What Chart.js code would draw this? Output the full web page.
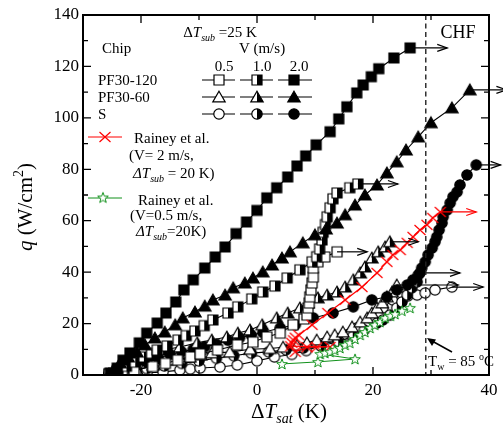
<!DOCTYPE html>
<html>
<head>
<meta charset="utf-8">
<script src="https://cdn.jsdelivr.net/npm/chart.js@4.4.1/dist/chart.umd.min.js"></script>
<style>
  html, body { margin: 0; padding: 0; background: #fff; }
  #wrap { width: 503px; height: 432px; }
</style>
</head>
<body>
<div id="wrap"><canvas id="chart" width="503" height="432"></canvas></div>
<script>
'use strict';

// ---- data ----
const pf120_20_x = [-25.3, -24.1, -23.1, -21.9, -20.3, -19.0, -17.2, -15.7, -14.0, -12.6, -11.0, -9.0, -7.2, -5.5, -3.6, -1.8, 0, 1.7, 3.4, 5.3, 6.9, 8.4, 10.2, 12.6, 14.1, 15.5, 17.2, 18.3, 19.7, 21.0, 23.6, 26.4];
const pf120_20_y = [0.8, 2.7, 5.8, 8.6, 12.5, 16.3, 20.2, 24.1, 28.4, 33.1, 37.0, 41.6, 45.9, 49.8, 55.0, 59.5, 64.0, 68.9, 72.8, 77.0, 81.3, 85.2, 89.5, 94.6, 99.6, 104.3, 109.7, 112.8, 116.0, 119.1, 123.3, 127.2];

const pf60_20_x = [-25.5, -24.8, -23.6, -22.2, -20.7, -19.3, -17.6, -15.9, -14.1, -12.8, -10.7, -9.0, -7.6, -5.5, -4.1, -2.1, -0.7, 1.0, 2.6, 4.3, 5.7, 7.9, 10.0, 11.9, 13.8, 15.2, 16.9, 18.6, 20.7, 22.4, 24.1, 25.7, 27.8, 30.0, 33.6, 36.7];
const pf60_20_y = [0.3, 1.9, 4.7, 7.0, 8.9, 11.7, 14.4, 16.7, 19.5, 22.2, 24.5, 26.8, 29.2, 31.1, 33.9, 35.8, 37.7, 40.1, 42.8, 45.5, 47.9, 51.4, 54.5, 56.8, 59.1, 62.3, 66.1, 70.0, 73.9, 78.6, 82.9, 87.5, 92.6, 98.1, 103.9, 110.9];

const pf120_10_x = [-25.5, -24.0, -22.5, -21.0, -19.5, -18.2, -17.2, -15.5, -13.6, -12.2, -10.7, -9.1, -7.6, -5.0, -3.3, -0.9, 1.0, 3.1, 5.2, 7.4, 9.5, 10.3, 10.8, 11.2, 11.4, 11.8, 12.1, 12.6, 13.1, 13.8, 16.0, 17.4];
const pf120_10_y = [0.3, 1.8, 3.4, 5.0, 7.0, 8.5, 9.7, 11.3, 13.6, 15.3, 17.1, 19.2, 21.4, 24.1, 26.5, 29.6, 32.3, 34.6, 37.7, 40.9, 44.0, 46.0, 49.0, 52.5, 55.5, 58.5, 61.5, 65.0, 68.5, 70.8, 72.8, 74.3];

const pf120_05_x = [-25.5, -23.2, -21.2, -18.0, -15.8, -13.7, -11.5, -9.8, -6.8, -3.4, -0.7, 1.7, 4.0, 6.2, 8.1, 8.6, 8.8, 9.0, 9.1, 9.3, 9.5, 9.7, 9.7, 10.5, 11.7, 13.8];
const pf120_05_y = [0.5, 1.2, 1.8, 3.3, 4.5, 5.8, 7.0, 8.2, 9.7, 11.7, 12.8, 14.8, 16.3, 19.5, 21.8, 23.3, 26.1, 28.0, 30.4, 33.1, 35.8, 38.1, 41.6, 44.0, 45.9, 47.9];

const pf60_10_x = [-25.5, -23.1, -20.7, -18.8, -16.2, -13.3, -10.3, -7.8, -5.2, -3.3, -1.2, 0.9, 3.4, 5.3, 7.4, 8.8, 10.5, 12.1, 13.8, 15.2, 16.6, 17.8, 18.6, 19.8, 20.9, 22.1, 22.9];
const pf60_10_y = [0.3, 3.1, 5.8, 7.8, 9.7, 10.9, 12.5, 13.6, 14.8, 16.3, 17.5, 19.5, 22.2, 24.1, 26.1, 28.0, 30.0, 31.1, 32.3, 34.2, 37.0, 39.7, 42.0, 45.5, 47.9, 49.8, 51.8];

const pf60_05_x = [-25.5, -23.0, -20.7, -17.9, -15.0, -13.3, -11.6, -9.7, -7.8, -4.7, -1.2, 2.2, 4.5, 6.9, 8.6, 10.3, 12.1, 13.4, 14.8, 16.4, 17.8, 19.0, 19.8, 20.7, 21.6, 22.4, 23.3, 24.1];
const pf60_05_y = [0.3, 1.0, 1.9, 3.9, 5.8, 6.4, 7.0, 7.8, 8.6, 8.9, 10.0, 10.3, 10.8, 11.5, 12.5, 13.6, 14.8, 15.6, 16.7, 18.7, 20.6, 22.2, 24.1, 26.1, 28.0, 30.4, 32.3, 35.0];

const s_20_x = [-25.5, -23, -21, -19, -17, -15, -13, -11, -9, -7, -5, -3, -1, 1, 4.0, 6.6, 9.7, 13.1, 16.6, 19.8, 22.4, 24.1, 25.9, 26.9, 27.8, 28.4, 29.0, 29.5, 30.2, 30.7, 31.0, 31.4, 31.9, 32.1, 32.8, 33.3, 33.8, 34.5, 35.0, 36.2, 37.8];
const s_20_y = [0.3, 2.0, 3.5, 5.0, 6.5, 8.0, 9.0, 10.0, 11.0, 12.0, 13.5, 14.5, 15.5, 16.5, 18.3, 19.5, 22.2, 24.1, 26.5, 29.2, 30.4, 33.1, 35.0, 37.0, 38.9, 41.6, 44.0, 46.7, 49.4, 51.8, 53.7, 56.4, 59.1, 61.5, 64.2, 66.9, 69.3, 71.2, 73.9, 77.8, 81.7];

const s_10_x = [-25.5, -22, -19, -16, -13, -10, -7, -4, -1, 2, 5, 8, 11, 14, 16.5, 18.5, 20.7, 21.7, 22.9, 24.1, 25.0, 25.9, 26.7, 27.6, 28.1];
const s_10_y = [0.3, 1.5, 2.5, 3.5, 4.5, 5.5, 6.5, 7.5, 8.5, 9.0, 9.8, 10.5, 11.3, 13.0, 15.0, 17.5, 20.2, 21.4, 23.3, 26.1, 28.4, 31.1, 33.9, 36.2, 39.7];

const s_05_x = [-25.5, -23.5, -21.9, -19.0, -16.2, -13.3, -11.5, -9.8, -6.4, -3.4, 0, 3.0, 6.0, 8.5, 11.0, 13.5, 15.5, 17.2, 19.5, 21.7, 23.4, 25.0, 26.0, 27.6, 29.0, 30.7, 33.6];
const s_05_y = [0.3, 0.3, 0.4, 0.8, 1.2, 1.9, 2.3, 2.7, 3.1, 3.9, 5.5, 7.0, 8.0, 9.5, 11.5, 13.5, 15.6, 18.3, 22.2, 26.1, 29.2, 30.4, 30.7, 31.1, 31.9, 33.1, 34.2];

const rainey2_x = [6.6, 8.6, 10.3, 12.6, 5.8, 6.0, 6.3, 6.6, 7.2, 9.5, 12.2, 15.2, 18.1, 20.7, 22.4, 23.4, 24.7, 25.9, 26.9, 28.1, 29.3, 30.3, 31.6];
const rainey2_y = [9.0, 10.8, 10.8, 10.9, 11.2, 12.5, 13.5, 14.5, 15.5, 19.5, 24.1, 29.2, 34.2, 39.7, 44.0, 46.7, 48.6, 51.4, 53.7, 56.4, 58.4, 61.1, 63.4];

const rainey05_x = [4.3, 10.5, 16.9, 10.9, 11.7, 12.6, 13.4, 14.3, 15.2, 16.0, 16.9, 17.8, 18.6, 19.5, 20.3, 21.2, 22.1, 23.0, 23.8, 25.0, 26.4];
const rainey05_y = [4.3, 5.1, 6.2, 8.2, 8.6, 9.0, 9.7, 10.5, 11.7, 12.5, 14.0, 15.6, 16.7, 18.3, 19.5, 20.6, 22.2, 23.0, 23.7, 25.0, 26.1];

// x where the "beyond CHF" arrows end
const arrowTips = { pf120_20: 32.8, pf60_20: 43, pf120_10: 24.3, pf120_05: 19, pf60_10: 27.8, pf60_05: 34.7, s_20: 42, s_10: 35, s_05: 39, rainey2: 37.8 };
const chfX = 29.1;

const xTicks = [-30, 40, 10];
const yTicks = [0, 140, 10];

// ---- markers ----
const FONT = '"Liberation Serif", "Times New Roman", serif';
const RED = '#ff0000';
const GREEN = '#10901a';

function makeMarker(shape, fill) {
  const c = document.createElement('canvas');
  c.width = 16; c.height = 16;
  const ctx = c.getContext('2d');
  ctx.beginPath();
  if (shape === 'square') {
    ctx.rect(3, 3, 10, 10);
  } else if (shape === 'triangle') {
    ctx.moveTo(8, 2.2); ctx.lineTo(14.2, 12.9); ctx.lineTo(1.8, 12.9); ctx.closePath();
  } else {
    ctx.arc(8, 8, 5.2, 0, Math.PI * 2);
  }
  ctx.fillStyle = fill === 'full' ? '#000' : '#fff';
  ctx.fill();
  if (fill === 'half') {
    ctx.save();
    ctx.clip();
    ctx.fillStyle = '#000';
    ctx.fillRect(8, 0, 8, 16);
    ctx.restore();
  }
  ctx.lineWidth = 1.2;
  ctx.strokeStyle = '#000';
  ctx.stroke();
  return c;
}

function makeStar() {
  const c = document.createElement('canvas');
  c.width = 16; c.height = 16;
  const ctx = c.getContext('2d');
  ctx.beginPath();
  for (let i = 0; i < 10; i++) {
    const r = i % 2 === 0 ? 5.6 : 2.3;
    const a = -Math.PI / 2 + i * Math.PI / 5;
    const px = 8 + r * Math.cos(a), py = 8.5 + r * Math.sin(a);
    if (i === 0) ctx.moveTo(px, py); else ctx.lineTo(px, py);
  }
  ctx.closePath();
  ctx.fillStyle = '#fff';
  ctx.fill();
  ctx.lineWidth = 1;
  ctx.strokeStyle = GREEN;
  ctx.stroke();
  return c;
}

function makeCross() {
  const c = document.createElement('canvas');
  c.width = 16; c.height = 16;
  const ctx = c.getContext('2d');
  ctx.strokeStyle = RED;
  ctx.lineWidth = 1.2;
  ctx.beginPath();
  ctx.moveTo(2.5, 3); ctx.lineTo(13.5, 13);
  ctx.moveTo(13.5, 3); ctx.lineTo(2.5, 13);
  ctx.stroke();
  return c;
}

const M = {
  sq0: makeMarker('square', 'open'), sq1: makeMarker('square', 'half'), sq2: makeMarker('square', 'full'),
  tr0: makeMarker('triangle', 'open'), tr1: makeMarker('triangle', 'half'), tr2: makeMarker('triangle', 'full'),
  ci0: makeMarker('circle', 'open'), ci1: makeMarker('circle', 'half'), ci2: makeMarker('circle', 'full'),
  star: makeStar(), cross: makeCross()
};

function pts(xs, ys) {
  return xs.map((x, i) => ({ x: x, y: ys[i] }));
}

const SERIES = [
  { key: 'rainey05', xs: rainey05_x, ys: rainey05_y, marker: M.star, color: GREEN, width: 1 },
  { key: 'rainey2', xs: rainey2_x, ys: rainey2_y, marker: M.cross, color: RED, width: 1.2 },
  { key: 'pf120_20', xs: pf120_20_x, ys: pf120_20_y, marker: M.sq2 },
  { key: 'pf60_20', xs: pf60_20_x, ys: pf60_20_y, marker: M.tr2 },
  { key: 'pf120_10', xs: pf120_10_x, ys: pf120_10_y, marker: M.sq1 },
  { key: 'pf120_05', xs: pf120_05_x, ys: pf120_05_y, marker: M.sq0 },
  { key: 'pf60_10', xs: pf60_10_x, ys: pf60_10_y, marker: M.tr1 },
  { key: 's_20', xs: s_20_x, ys: s_20_y, marker: M.ci2 },
  { key: 'pf60_05', xs: pf60_05_x, ys: pf60_05_y, marker: M.tr0 },
  { key: 's_10', xs: s_10_x, ys: s_10_y, marker: M.ci1 },
  { key: 's_05', xs: s_05_x, ys: s_05_y, marker: M.ci0 }
];

// text with italic / sub / sup parts
function rich(ctx, parts, x, y, size, align, color) {
  const fontOf = p => (p.i ? 'italic ' : '') + ((p.sub || p.sup) ? Math.round(size * 0.68) : size) + 'px ' + FONT;
  let w = 0;
  parts.forEach(p => { ctx.font = fontOf(p); p.w = ctx.measureText(p.t).width; w += p.w; });
  let cx = align === 'center' ? x - w / 2 : x;
  ctx.fillStyle = color || '#000';
  ctx.textAlign = 'left';
  ctx.textBaseline = 'alphabetic';
  parts.forEach(p => {
    ctx.font = fontOf(p);
    ctx.fillText(p.t, cx, y + (p.sub ? size * 0.25 : p.sup ? -size * 0.42 : 0));
    cx += p.w;
  });
}

function arrowHead(ctx, x, y, dir) {
  ctx.beginPath();
  ctx.moveTo(x - dir * 10, y - 3.5);
  ctx.lineTo(x, y);
  ctx.lineTo(x - dir * 10, y + 3.5);
  ctx.stroke();
}

const decorations = {
  id: 'decorations',
  afterDatasetsDraw(chart) {
    const ctx = chart.ctx;
    const a = chart.chartArea;
    const sx = chart.scales.x, sy = chart.scales.y;
    ctx.save();

    // arrows after last points
    SERIES.forEach(s => {
      const tip = arrowTips[s.key];
      if (tip === undefined) return;
      const n = s.xs.length - 1;
      const x0 = sx.getPixelForValue(s.xs[n]);
      const y0 = sy.getPixelForValue(s.ys[n]);
      const x1 = sx.getPixelForValue(tip);
      ctx.strokeStyle = s.color || '#000';
      ctx.lineWidth = 1.2;
      ctx.beginPath();
      ctx.moveTo(x0, y0); ctx.lineTo(x1, y0);
      ctx.stroke();
      arrowHead(ctx, x1, y0, 1);
    });

    // CHF dashed line
    const xc = sx.getPixelForValue(chfX);
    ctx.strokeStyle = '#222';
    ctx.lineWidth = 1.4;
    ctx.setLineDash([5, 3.5]);
    ctx.beginPath();
    ctx.moveTo(xc, a.top); ctx.lineTo(xc, a.bottom);
    ctx.stroke();
    ctx.setLineDash([]);

    // frame
    ctx.strokeStyle = '#000';
    ctx.lineWidth = 2;
    ctx.strokeRect(a.left, a.top, a.right - a.left, a.bottom - a.top);

    // inward ticks on all four sides
    ctx.lineWidth = 1.3;
    ctx.beginPath();
    for (let v = xTicks[0]; v <= xTicks[1]; v += xTicks[2]) {
      const px = sx.getPixelForValue(v);
      const len = v % 20 === 0 ? 8 : 5;
      ctx.moveTo(px, a.bottom); ctx.lineTo(px, a.bottom - len);
      ctx.moveTo(px, a.top); ctx.lineTo(px, a.top + len);
    }
    for (let v = yTicks[0]; v <= yTicks[1]; v += yTicks[2]) {
      const py = sy.getPixelForValue(v);
      const len = v % 20 === 0 ? 8 : 5;
      ctx.moveTo(a.left, py); ctx.lineTo(a.left + len, py);
      ctx.moveTo(a.right, py); ctx.lineTo(a.right - len, py);
    }
    ctx.stroke();

    // CHF label and wall-temperature note
    rich(ctx, [{ t: 'CHF' }], 458, 38, 18, 'center');
    ctx.lineWidth = 1.5;
    ctx.beginPath();
    ctx.moveTo(452, 352); ctx.lineTo(432, 341);
    ctx.stroke();
    ctx.fillStyle = '#000';
    ctx.beginPath();
    ctx.moveTo(427, 338); ctx.lineTo(436, 339.5); ctx.lineTo(432, 346); ctx.closePath();
    ctx.fill();
    rich(ctx, [{ t: 'T' }, { t: 'w', sub: 1 }, { t: ' = 85 ' }, { t: 'o', sup: 1 }, { t: 'C' }], 428, 366, 15, 'left');

    // axis titles
    rich(ctx, [{ t: 'Δ' }, { t: 'T', i: 1 }, { t: 'sat', i: 1, sub: 1 }, { t: ' (K)' }], 289, 418, 21, 'center');
    ctx.save();
    ctx.translate(32, 207);
    ctx.rotate(-Math.PI / 2);
    rich(ctx, [{ t: 'q', i: 1 }, { t: ' (W/cm' }, { t: '2', sup: 1 }, { t: ')' }], 0, 0, 21, 'center');
    ctx.restore();

    // legend block
    rich(ctx, [{ t: 'Δ' }, { t: 'T', i: 1 }, { t: 'sub', i: 1, sub: 1 }, { t: ' =25 K' }], 220, 37, 15, 'center');
    rich(ctx, [{ t: 'Chip' }], 102, 53, 15, 'left');
    rich(ctx, [{ t: 'V (m/s)' }], 262, 53, 15, 'center');
    rich(ctx, [{ t: '0.5' }], 224, 71, 15, 'center');
    rich(ctx, [{ t: '1.0' }], 262, 71, 15, 'center');
    rich(ctx, [{ t: '2.0' }], 299, 71, 15, 'center');
    const rows = [
      { label: 'PF30-120', y: 80, m: [M.sq0, M.sq1, M.sq2] },
      { label: 'PF30-60', y: 97, m: [M.tr0, M.tr1, M.tr2] },
      { label: 'S', y: 114, m: [M.ci0, M.ci1, M.ci2] }
    ];
    const segs = [[202, 235, 219], [240, 273, 257], [278, 312, 294]];
    rows.forEach(r => {
      rich(ctx, [{ t: r.label }], 98, r.y + 5, 15, 'left');
      ctx.strokeStyle = '#000';
      ctx.lineWidth = 1.2;
      segs.forEach((sg, i) => {
        ctx.beginPath();
        ctx.moveTo(sg[0], r.y); ctx.lineTo(sg[1], r.y);
        ctx.stroke();
        ctx.drawImage(r.m[i], sg[2] - 8, r.y - 8);
      });
    });

    // Rainey entries
    ctx.strokeStyle = RED;
    ctx.lineWidth = 1.2;
    ctx.beginPath(); ctx.moveTo(88, 137); ctx.lineTo(122, 137); ctx.stroke();
    ctx.drawImage(M.cross, 105 - 8, 137 - 8);
    rich(ctx, [{ t: 'Rainey et al.' }], 134, 143, 15, 'left');
    rich(ctx, [{ t: '(V= 2 m/s,' }], 129, 160, 15, 'left');
    rich(ctx, [{ t: 'Δ', i: 1 }, { t: 'T', i: 1 }, { t: 'sub', i: 1, sub: 1 }, { t: ' = 20 K)' }], 133, 178, 15, 'left');

    ctx.strokeStyle = GREEN;
    ctx.lineWidth = 1;
    ctx.beginPath(); ctx.moveTo(88, 198); ctx.lineTo(122, 198); ctx.stroke();
    ctx.drawImage(M.star, 103 - 8, 198 - 8.5);
    rich(ctx, [{ t: 'Rainey et al.' }], 138, 205, 15, 'left');
    rich(ctx, [{ t: '(V=0.5 m/s,' }], 130, 220, 15, 'left');
    rich(ctx, [{ t: 'Δ', i: 1 }, { t: 'T', i: 1 }, { t: 'sub', i: 1, sub: 1 }, { t: '=20K)' }], 136, 236, 15, 'left');

    ctx.restore();
  }
};

const tickFont = { family: FONT, size: 17 };

new Chart(document.getElementById('chart'), {
  type: 'line',
  data: {
    datasets: SERIES.map(s => ({
      data: pts(s.xs, s.ys),
      borderColor: s.color || '#000',
      borderWidth: s.width || 1.1,
      pointStyle: s.marker,
      pointRadius: 5,
      tension: 0,
      fill: false
    }))
  },
  options: {
    responsive: false,
    animation: false,
    events: [],
    layout: { padding: { top: 15, right: 14, left: 0, bottom: 0 } },
    plugins: { legend: { display: false }, tooltip: { enabled: false } },
    scales: {
      x: {
        type: 'linear', min: xTicks[0], max: xTicks[1],
        grid: { display: false, drawTicks: false },
        border: { display: false },
        ticks: {
          stepSize: xTicks[2], autoSkip: false, maxRotation: 0, padding: 5,
          color: '#000', font: tickFont,
          callback: v => (v % 20 === 0 ? String(v) : '')
        },
        afterFit: s => { s.height = 57; }
      },
      y: {
        type: 'linear', min: yTicks[0], max: yTicks[1],
        grid: { display: false, drawTicks: false },
        border: { display: false },
        ticks: {
          stepSize: yTicks[2], autoSkip: false, padding: 4,
          color: '#000', font: tickFont,
          callback: v => (v % 20 === 0 ? String(v) : '')
        },
        afterFit: s => { s.width = 83; }
      }
    }
  },
  plugins: [decorations]
});
</script>
</body>
</html>
